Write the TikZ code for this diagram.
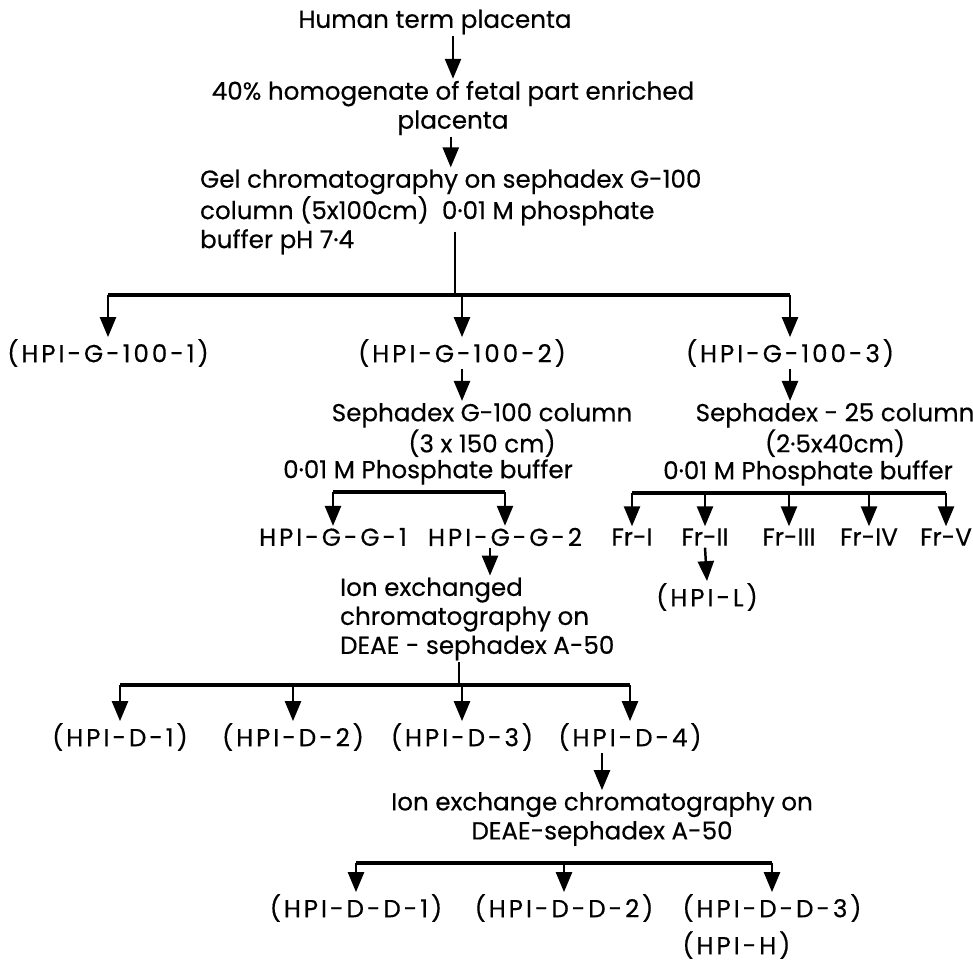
\documentclass[tikz,border=0pt]{standalone}
\usepackage{fontspec}
\setmainfont{Poppins}[FakeBold=0.4]
\newfontfamily\widefont{Poppins}[LetterSpace=12, FakeBold=0.4]
\usetikzlibrary{arrows.meta, positioning}
\tikzstyle{txt} = [inner sep=1pt, align=center, font=\fontsize{14}{16.5}\selectfont]
\tikzstyle{fraction} = [txt, font=\widefont\fontsize{14}{16.5}\selectfont]
\tikzstyle{arrow} = [line width=1.4pt, -{Triangle[width=3.2mm, length=4mm]}]
\tikzstyle{stem} = [line width=1.4pt]
\tikzstyle{bar} = [line width=2.6pt]

\begin{document}
\begin{tikzpicture}[x=0.02cm, y=-0.02cm]
	\useasboundingbox (0,0) rectangle (973,963);

	% Extraction
	\node (placenta) [txt] at (435,22) {Human term placenta};
	\node (homog) [txt] at (453,108) {40\% homogenate of fetal part enriched\\placenta};
	\node (gel) [txt, align=left, anchor=west] at (198,212) {Gel chromatography on sephadex G-100\\column (5x100cm) \ 0·01 M phosphate\\buffer pH 7·4};
	\coordinate (bar1) at (455,295);

	% First fractions
	\node (g1) [fraction] at (108,353) {(HPI-G-100-1)};
	\node (g2) [fraction] at (462,353) {(HPI-G-100-2)};
	\node (g3) [fraction] at (790,353) {(HPI-G-100-3)};

	% Column 2
	\node (col2) [txt] at (482,430) {Sephadex G-100 column\\(3 x 150 cm)};
	\node (buf2) [txt] at (428,472) {0·01 M Phosphate buffer};
	\coordinate (bar2) at (420,492);
	\node (gg1) [fraction] at (333,537) {HPI-G-G-1};
	\node (gg2) [fraction] at (505,537) {HPI-G-G-2};
	\node (ion1) [txt, align=left, anchor=west] at (338,619) {Ion exchanged\\chromatography on\\DEAE - sephadex A-50};
	\coordinate (bar3) at (459,685);
	\node (d1) [fraction] at (120,737) {(HPI-D-1)};
	\node (d2) [fraction] at (293,737) {(HPI-D-2)};
	\node (d3) [fraction] at (462,737) {(HPI-D-3)};
	\node (d4) [fraction] at (630,737) {(HPI-D-4)};
	\node (ion2) [txt] at (602,819) {Ion exchange chromatography on\\DEAE-sephadex A-50};
	\coordinate (bar4) at (560,863);
	\node (dd1) [fraction] at (356,908) {(HPI-D-D-1)};
	\node (dd2) [fraction] at (564,908) {(HPI-D-D-2)};
	\node (dd3) [fraction] at (772,908) {(HPI-D-D-3)};
	\node (hpih) [fraction, below=3pt of dd3.south west, anchor=north west] {(HPI-H)};

	% Column 3
	\node (col3) [txt] at (835,430) {Sephadex - 25 column\\(2·5x40cm)};
	\node (buf3) [txt] at (808,473) {0·01 M Phosphate buffer};
	\coordinate (bar5) at (790,493);
	\node (fr1) [txt] at (632,537) {Fr-I};
	\node (fr2) [txt] at (705,537) {Fr-II};
	\node (fr3) [txt] at (789,537) {Fr-III};
	\node (fr4) [txt] at (869,537) {Fr-IV};
	\node (fr5) [txt] at (946,537) {Fr-V};
	\node (hpil) [fraction] at (707,597) {(HPI-L)};

	% Arrows top
	\draw [arrow] (placenta.south -| homog.north) -- (homog.north);
	\draw [arrow] (homog.south -| gel.north) -- (gel.north);
	\draw [stem] ([yshift=0.5cm]gel.south -| bar1) -- (bar1);
	\draw [bar] (g1.north |- bar1) -- (g3.north |- bar1);
	\foreach \n in {g1, g2, g3}
		\draw [arrow] (\n.north |- bar1) -- (\n.north);

	% Arrows column 2
	\draw [arrow] (g2.south) -- (g2.south |- col2.north);
	\draw [bar] (gg1.north |- bar2) -- (gg2.north |- bar2);
	\foreach \n in {gg1, gg2}
		\draw [arrow] (\n.north |- bar2) -- (\n.north);
	\draw [arrow] ([xshift=-0.3cm]gg2.south) -- ([xshift=-0.3cm]gg2.south |- ion1.north);
	\draw [stem] (ion1.south -| bar3) -- (bar3);
	\draw [bar] (d1.north |- bar3) -- (d4.north |- bar3);
	\foreach \n in {d1, d2, d3, d4}
		\draw [arrow] (\n.north |- bar3) -- (\n.north);
	\draw [arrow] (ion2.north |- d4.south) -- (ion2.north);
	\draw [bar] (dd1.north |- bar4) -- (dd3.north |- bar4);
	\foreach \n in {dd1, dd2, dd3}
		\draw [arrow] (\n.north |- bar4) -- (\n.north);

	% Arrows column 3
	\draw [arrow] (g3.south) -- (g3.south |- col3.north);
	\draw [bar] (fr1.north |- bar5) -- (fr5.north |- bar5);
	\foreach \n in {fr1, fr2, fr3, fr4, fr5}
		\draw [arrow] (\n.north |- bar5) -- (\n.north);
	\draw [arrow] (fr2.south) -- (hpil.north);

\end{tikzpicture}
\end{document}
